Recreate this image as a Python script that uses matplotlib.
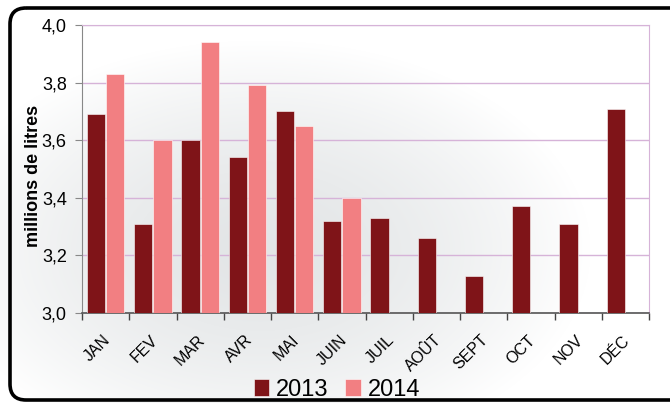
import numpy as np
import matplotlib.pyplot as plt
from matplotlib.patches import FancyBboxPatch
from matplotlib.ticker import FuncFormatter

plt.rcParams['font.family'] = ['Liberation Sans', 'DejaVu Sans']

months = ["JAN", "FEV", "MAR", "AVR", "MAI", "JUIN", "JUIL", "AOÛT", "SEPT", "OCT", "NOV", "DÉC"]
vals_2013 = [3.69, 3.31, 3.60, 3.54, 3.70, 3.32, 3.33, 3.26, 3.13, 3.37, 3.31, 3.71]
vals_2014 = [3.83, 3.60, 3.94, 3.79, 3.65, 3.40]

DARK = "#7f1418"
PINK = "#f27f82"
GRID = "#d6b3d8"

W, H = 670, 403
fig = plt.figure(figsize=(W / 100, H / 100), dpi=100)

# soft grey gradient behind the chart
bg = fig.add_axes([0, 0, 1, 1], zorder=0)
yy, xx = np.mgrid[0:H, 0:W]
d = np.sqrt(((xx - 260) / 330.0) ** 2 + ((yy - 250) / 210.0) ** 2)
shade = np.clip(d, 0, 1) ** 1.6
img = np.empty((H, W, 3))
lo = np.array([0.89, 0.90, 0.905])
for c in range(3):
    img[..., c] = lo[c] + (1 - lo[c]) * shade
bg.imshow(img, extent=[0, W, H, 0], aspect='auto', interpolation='bilinear')
bg.set_xlim(0, W)
bg.set_ylim(H, 0)
bg.axis('off')

box = FancyBboxPatch((10, 8), 690, 392, boxstyle="round,pad=0,rounding_size=16",
                     transform=bg.transData, fill=False, ec="black", lw=2.6, clip_on=False)
bg.add_patch(box)

ax = fig.add_axes([82 / W, 1 - 313 / H, (649 - 82) / W, (313 - 25) / H], zorder=1)
ax.patch.set_alpha(0)

x = np.arange(len(months))
bw = 0.385
ax.bar(x[:len(vals_2013)] - bw / 2 - 0.01, np.array(vals_2013) - 3.0, bw, bottom=3.0,
       color=DARK, edgecolor="white", linewidth=0.4, label="2013", zorder=3)
ax.bar(x[:len(vals_2014)] + bw / 2 + 0.01, np.array(vals_2014) - 3.0, bw, bottom=3.0,
       color=PINK, edgecolor="white", linewidth=0.4, label="2014", zorder=3)

ax.set_xlim(-0.5, len(months) - 0.5)
ax.set_ylim(3.0, 4.0)
ax.set_yticks(np.arange(3.0, 4.01, 0.2))
ax.yaxis.set_major_formatter(FuncFormatter(lambda v, p: f"{v:.1f}".replace(".", ",")))
ax.yaxis.grid(True, color=GRID, linewidth=1.0, zorder=1)
ax.set_axisbelow(True)

ax.set_xticks(np.arange(-0.5, len(months), 1.0))
ax.set_xticklabels([])
ax.set_xticks(x - 0.06, minor=True)
ax.set_xticklabels(months, minor=True, rotation=45, ha="right", va="top",
                   rotation_mode="anchor", fontsize=11.5)
ax.tick_params(axis="x", which="major", direction="out", length=5, color="#444444", width=1)
ax.tick_params(axis="x", which="minor", length=0, pad=14)
ax.tick_params(axis="y", direction="out", length=5, color="#888888", labelsize=13, pad=6)

ax.spines["left"].set_color("#888888")
ax.spines["bottom"].set_color("#555555")
ax.spines["bottom"].set_linewidth(1.2)
ax.spines["right"].set_color(GRID)
ax.spines["top"].set_color(GRID)

ax.set_ylabel("millions de litres", fontsize=13, fontweight="bold")
ax.yaxis.set_label_coords(-40 / 567, 0.475)

fig.legend(loc="center", bbox_to_anchor=(337 / W, 1 - 390 / H), ncol=2, frameon=False,
           fontsize=17, handlelength=0.65, handleheight=0.7, handletextpad=0.3,
           columnspacing=0.7, borderpad=0)

fig.savefig("out.png", dpi=100)
